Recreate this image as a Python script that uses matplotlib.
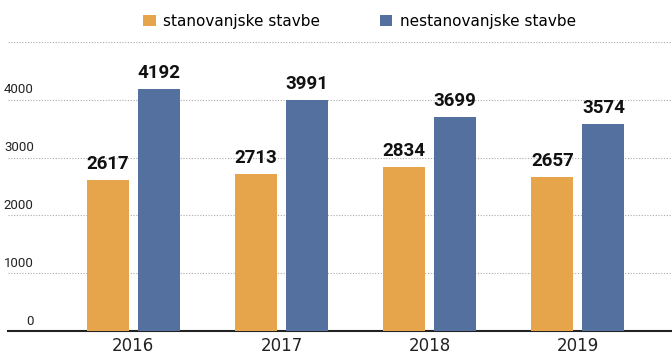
import numpy as np
import matplotlib.pyplot as plt

years = ["2016", "2017", "2018", "2019"]
stanovanjske = [2617, 2713, 2834, 2657]
nestanovanjske = [4192, 3991, 3699, 3574]
y_ticks = [0, 1000, 2000, 3000, 4000, 5000]

orange = "#E6A44B"
blue = "#53709F"

plt.rcParams["font.family"] = ["DejaVu Sans"]
narrow = ["Roboto", "DejaVu Sans"]

fig = plt.figure(figsize=(6.72, 3.55), dpi=100)
ax = fig.add_axes([0.012, 0.0676, 0.988, 0.8145])

x = np.arange(len(years))
off = 0.172
w = 0.284
b1 = ax.bar(x - off, stanovanjske, w, color=orange, zorder=3, label="stanovanjske stavbe")
b2 = ax.bar(x + off, nestanovanjske, w, color=blue, zorder=3, label="nestanovanjske stavbe")

for bars, vals in ((b1, stanovanjske), (b2, nestanovanjske)):
    for rect, v in zip(bars, vals):
        ax.annotate(str(v), (rect.get_x() + rect.get_width() / 2, v),
                    xytext=(0, 5), textcoords="offset points",
                    ha="center", va="bottom", fontsize=13.5,
                    fontweight="bold", family=narrow, color="#111111")

ax.set_xlim(-0.845, 3.635)
ax.set_ylim(0, 5000)

for t in y_ticks[1:]:
    ax.axhline(t, color="#aaaaaa", lw=0.8, ls=(0, (1, 1.5)), zorder=1)
for t in y_ticks[:-1]:
    ax.annotate(str(t), (0, t), xycoords=("axes fraction", "data"),
                xytext=(18.5, 2.5), textcoords="offset points",
                ha="right", va="bottom", fontsize=9.5, family=narrow,
                color="#222222")

ax.set_yticks([])
ax.set_xticks(x)
ax.set_xticklabels(years, fontsize=12, color="#222222")
ax.tick_params(axis="x", length=0, pad=4.5)

for s in ("top", "right", "left"):
    ax.spines[s].set_visible(False)
ax.spines["bottom"].set_color("#222222")
ax.spines["bottom"].set_linewidth(1.5)

fig.legend(handles=[b1, b2], loc="center", bbox_to_anchor=(0.535, 0.94),
           ncol=2, frameon=False, fontsize=11, handlelength=0.8,
           handleheight=0.8, handletextpad=0.5, columnspacing=3.9)

fig.savefig("out.png", dpi=100)
